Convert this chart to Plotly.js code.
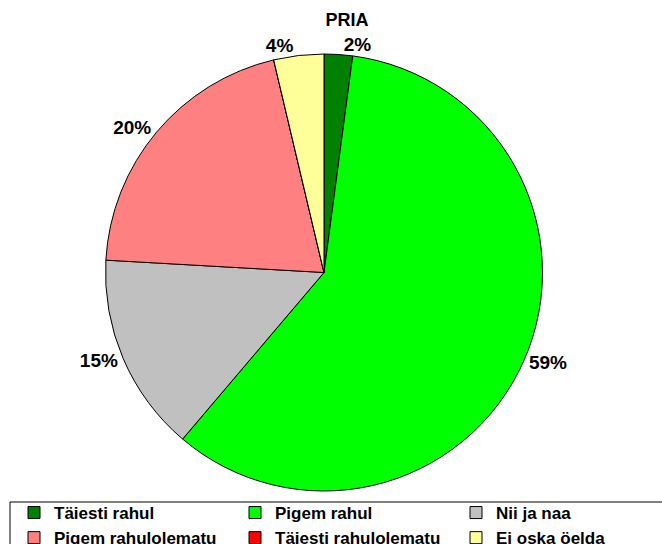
<!DOCTYPE html>
<html>
<head>
<meta charset="utf-8">
<script src="https://cdn.plot.ly/plotly-3.0.1.min.js"></script>
<style>html,body{margin:0;padding:0;background:#fff;}#chart{width:662px;height:544px;}</style>
</head>
<body>
<div id="chart"></div>
<script>
const categories = ["Täiesti rahul", "Pigem rahul", "Nii ja naa", "Pigem rahulolematu", "Täiesti rahulolematu", "Ei oska öelda"];
const shares = [2.1, 59.1, 14.7, 20.4, 0, 3.7];
const sliceColors = ["#008000", "#00FF00", "#C0C0C0", "#FF8080", "#FF0000", "#FFFF99"];
const chartTitle = "PRIA";

const FONT = "Liberation Sans, Arial, sans-serif";

const trace = {
  type: "pie",
  labels: categories,
  values: shares,
  sort: false,
  direction: "clockwise",
  rotation: 0,
  marker: { colors: sliceColors, line: { color: "#000000", width: 1 } },
  textposition: "outside",
  texttemplate: shares.map(v => v > 0 ? "%{percent:.0%}" : ""),
  textfont: { family: FONT, size: 19, color: "#000000", weight: "bold" },
  hoverinfo: "label+percent",
  domain: { x: [104 / 662, 544 / 662], y: [53 / 544, 490 / 544] },
  showlegend: true
};

const layout = {
  width: 662,
  height: 544,
  margin: { l: 0, r: 0, t: 0, b: 0, autoexpand: false },
  paper_bgcolor: "#ffffff",
  plot_bgcolor: "#ffffff",
  font: { family: FONT, color: "#000000" },
  title: {
    text: chartTitle,
    font: { family: FONT, size: 18, color: "#000000", weight: "bold" },
    x: 347 / 662, xanchor: "center",
    y: 1 - 20 / 544, yanchor: "middle"
  },
  showlegend: true,
  legend: {
    orientation: "h",
    x: 14 / 662, xanchor: "left",
    y: 1 - 495 / 544, yanchor: "top",
    entrywidth: 176, entrywidthmode: "pixels",
    itemwidth: 30,
    borderwidth: 0,
    bgcolor: "rgba(0,0,0,0)",
    font: { family: FONT, size: 17, color: "#000000", weight: "bold" },
    traceorder: "normal"
  },
  shapes: [{
    type: "rect", xref: "paper", yref: "paper",
    x0: 10 / 662, x1: 1.05, y0: -0.2, y1: 1 - 502 / 544,
    line: { color: "#000000", width: 1 }, fillcolor: "rgba(0,0,0,0)", layer: "below"
  }]
};

Plotly.newPlot("chart", [trace], layout, { displayModeBar: false, staticPlot: true });
</script>
</body>
</html>
